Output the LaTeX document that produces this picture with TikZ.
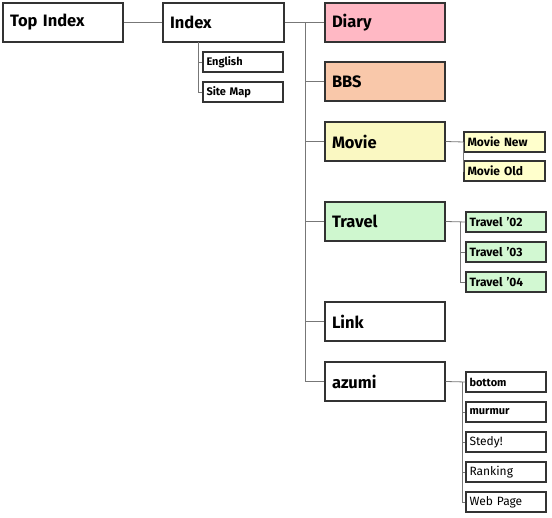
\documentclass[tikz,border=0pt]{standalone}
\usepackage{fontspec}
\setmainfont{Fira Sans}
\definecolor{pinkfill}{HTML}{FFB8C4}
\definecolor{bbsfill}{HTML}{F9C8AA}
\definecolor{moviefill}{HTML}{FAF8C2}
\definecolor{travelfill}{HTML}{CFF7CF}
\definecolor{msub}{HTML}{FFFFCC}
\definecolor{tsub}{HTML}{D2F8D2}
\definecolor{boxline}{HTML}{333333}
\definecolor{conn}{HTML}{777777}
\tikzset{
  mainbox/.style={draw=boxline, line width=1.1pt, fill=white, minimum height=39pt,
    text width=106pt, inner xsep=7pt, inner ysep=0pt, align=left,
    font=\fontsize{16.5}{18}\selectfont\bfseries},
  subbox/.style={draw=boxline, line width=1.1pt, fill=white, minimum height=20pt,
    text width=73pt, inner xsep=3.5pt, inner ysep=0pt, align=left,
    font=\fontsize{12}{14}\selectfont},
  bsub/.style={subbox, font=\fontsize{11}{13}\selectfont\bfseries},
  msubbox/.style={subbox, fill=msub, font=\fontsize{12}{14}\selectfont\bfseries},
  tsubbox/.style={subbox, fill=tsub, font=\fontsize{12}{14}\selectfont\bfseries},
  link/.style={draw=conn, line width=0.8pt}
}
\begin{document}
\begin{tikzpicture}[x=1pt,y=-1pt]
\useasboundingbox (0,0) rectangle (552,518);
% main boxes
\node[mainbox] (top) at (63,22.5) {Top Index};
\node[mainbox, text width=107pt] (index) at (223.5,22.5) {Index};
\node[bsub, text width=73pt] (english) at (243,62) {English};
\node[bsub, text width=73pt] (sitemap) at (243,92) {Site Map};
\node[mainbox, fill=pinkfill] (diary) at (385,22.5) {Diary};
\node[mainbox, fill=bbsfill] (bbs) at (385,81.5) {BBS};
\node[mainbox, fill=moviefill] (movie) at (385,141.5) {Movie};
\node[mainbox, fill=travelfill] (travel) at (385,221.5) {Travel};
\node[mainbox] (linkbox) at (385,321.5) {Link};
\node[mainbox] (azumi) at (385,381.5) {azumi};
% movie subs
\node[msubbox, text width=74pt] (mnew) at (504.5,142) {Movie New};
\node[msubbox, text width=74pt] (mold) at (504.5,171) {Movie Old};
% travel subs
\node[tsubbox] (t02) at (506,222) {Travel '02};
\node[tsubbox] (t03) at (506,252) {Travel '03};
\node[tsubbox] (t04) at (506,282) {Travel '04};
% azumi subs
\node[bsub] (bottom) at (506,382) {bottom};
\node[bsub] (murmur) at (506,412) {murmur};
\node[subbox] (stedy) at (506,442) {Stedy!};
\node[subbox] (ranking) at (506,472) {Ranking};
\node[subbox] (webpage) at (506,502) {Web Page};
% junctions
\coordinate (j0) at (198,42);
\coordinate (j1) at (305,22.5);
\coordinate (jm) at (463,142);
\coordinate (jt) at (460,222);
\coordinate (ja) at (462,382);
% connectors
\draw[link] (top.east) -- (index.west);
\draw[link] (j0) |- (english.west);
\draw[link] (j0) |- (sitemap.west);
\draw[link] (index.east) -- (diary.west);
\draw[link] (j1) |- (bbs.west);
\draw[link] (j1) |- (movie.west);
\draw[link] (j1) |- (travel.west);
\draw[link] (j1) |- (linkbox.west);
\draw[link] (j1) |- (azumi.west);
\draw[link] (movie.east) -- (mnew.west);
\draw[link] (jm) |- (mold.west);
\draw[link] (travel.east) -- (t02.west);
\draw[link] (jt) |- (t03.west);
\draw[link] (jt) |- (t04.west);
\draw[link] (azumi.east) -- (bottom.west);
\draw[link] (ja) |- (murmur.west);
\draw[link] (ja) |- (stedy.west);
\draw[link] (ja) |- (ranking.west);
\draw[link] (ja) |- (webpage.west);
\end{tikzpicture}
\end{document}
